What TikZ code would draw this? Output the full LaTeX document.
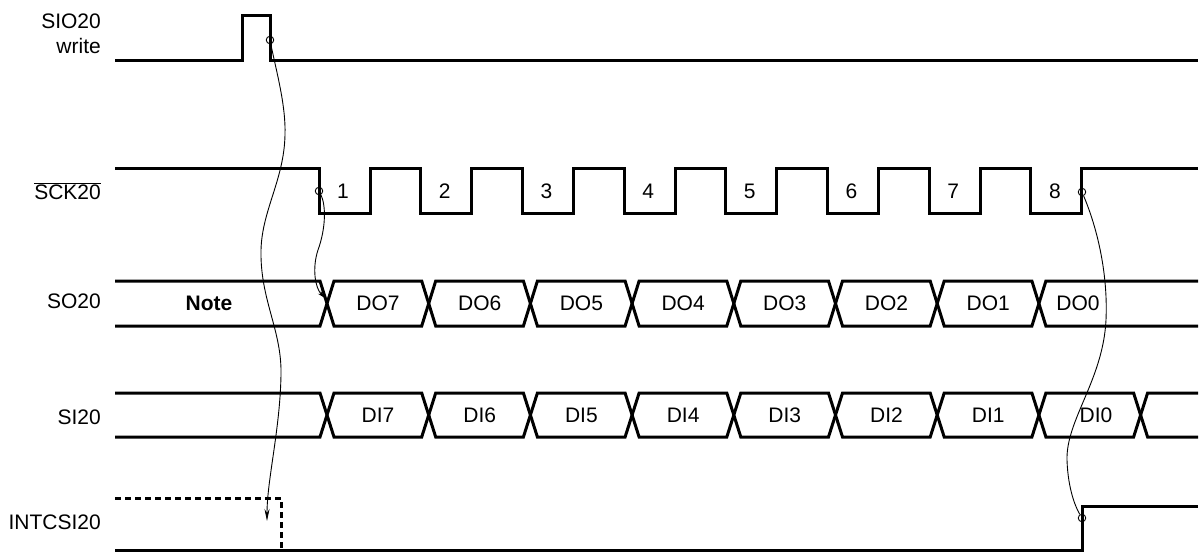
\documentclass[tikz,border=0pt]{standalone}
\usepackage{fontspec}
\setmainfont{Liberation Sans}
\usetikzlibrary{arrows.meta}
\begin{document}
\begin{tikzpicture}[x=1pt,y=-1pt,
  sig/.style={line width=3pt},
  dsig/.style={line width=3pt, dash pattern=on 6pt off 4pt},
  conn/.style={line width=0.9pt},
  lbl/.style={anchor=base east, inner sep=0pt, font=\fontsize{21}{25}\selectfont},
  txt/.style={inner sep=0pt, font=\fontsize{21}{25}\selectfont},
  mk/.style={circle, draw, line width=0.9pt, minimum size=7.5pt, inner sep=0pt}]
\useasboundingbox (0,0) rectangle (1200,552);

% signal names
\node[lbl] (lsio) at (101,28) {SIO20};
\node[lbl] (lwr) at (101,53) {write};
\node[lbl] (lsck) at (101,199) {$\overline{\mbox{SCK20}}$};
\node[lbl] (lso) at (101,308) {SO20};
\node[lbl] (lsi) at (101,424) {SI20};
\node[lbl] (lint) at (101,529) {INTCSI20};

% SIO20 write
\draw[sig] (115,60) -- (242,60) -- (242,15) -- (270,15) -- (270,60) -- (1198,60);

% SCK20
\draw[sig] (115,168) foreach \k in {0,...,7} { -- ({319+\k*101.7},168) -- ({319+\k*101.7},213) -- ({370+\k*101.7},213) -- ({370+\k*101.7},168) } -- (1198,168);
\foreach \k in {1,...,8} \node[txt] (n\k) at ({343+(\k-1)*101.7},191) {\k};

% SO20
\draw[sig] (115,281) foreach \k in {0,...,7} { -- ({320+\k*101.7},{281+45*mod(\k,2)}) -- ({334+\k*101.7},{326-45*mod(\k,2)}) } -- (1198,281);
\draw[sig] (115,326) foreach \k in {0,...,7} { -- ({320+\k*101.7},{326-45*mod(\k,2)}) -- ({334+\k*101.7},{281+45*mod(\k,2)}) } -- (1198,326);
\node[txt, font=\fontsize{21}{25}\selectfont\bfseries] (note) at (209,303.5) {Note};
\foreach \k/\t in {0/DO7,1/DO6,2/DO5,3/DO4,4/DO3,5/DO2,6/DO1} \node[txt] (so\k) at ({378+\k*101.7},303.5) {\t};
\node[txt] (so7) at (1078,303.5) {DO0};

% SI20
\draw[sig] (115,393) foreach \k in {0,...,8} { -- ({320+\k*101.7},{393+44*mod(\k,2)}) -- ({334+\k*101.7},{437-44*mod(\k,2)}) } -- (1198,437);
\draw[sig] (115,437) foreach \k in {0,...,8} { -- ({320+\k*101.7},{437-44*mod(\k,2)}) -- ({334+\k*101.7},{393+44*mod(\k,2)}) } -- (1198,393);
\foreach \k/\t in {0/DI7,1/DI6,2/DI5,3/DI4,4/DI3,5/DI2,6/DI1} \node[txt] (si\k) at ({378+\k*101.7},415) {\t};
\node[txt] (si7) at (1096,415) {DI0};

% INTCSI20
\draw[sig] (115,550.5) -- (1082,550.5) -- (1082,506) -- (1198,506);
\draw[dsig] (115,498) -- (281,498) -- (281,550.5);

% markers
\node[mk] (m1) at (270,40) {};
\node[mk] (m2) at (319,191) {};
\node[mk] (m3) at (1082,192) {};
\node[mk] (m4) at (1082,518) {};
\coordinate (a1) at (267,521);
\coordinate (a2) at (325,298);

% connectors
\draw[conn,-{Stealth[length=12pt,width=5pt]}] (m1) .. controls (276,70) and (286,105) .. (285,135) .. controls (284,180) and (262,210) .. (261,250) .. controls (260,300) and (282,330) .. (281,375) .. controls (280,430) and (267,480) .. (a1);
\draw[conn,-{Stealth[length=8pt,width=4pt]}] (m2) .. controls (326,205) and (326,228) .. (318,250) .. controls (312,268) and (315,288) .. (a2);
\draw[conn] (m3) .. controls (1098,230) and (1108,275) .. (1106,320) .. controls (1103,380) and (1066,420) .. (1067,460) .. controls (1068,490) and (1076,508) .. (m4);
\end{tikzpicture}
\end{document}
